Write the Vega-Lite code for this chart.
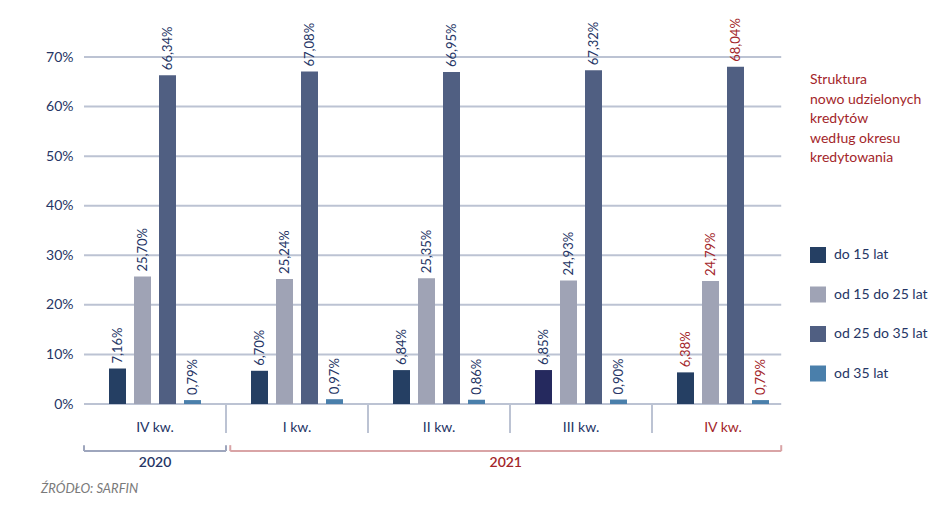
{
  "$schema": "https://vega.github.io/schema/vega-lite/v6.json",
  "width": 697,
  "height": 347,
  "padding": {"left": 40, "top": 18, "right": 5, "bottom": 5},
  "config": {
    "font": "Lato",
    "view": {"stroke": null},
    "locale": {"number": {"decimal": ",", "thousands": " ", "grouping": [3], "currency": ["", " zł"]}}
  },
  "datasets": {
    "shares": [
      {"q": "2020 IV", "series": "do 15 lat", "v": 0.0716},
      {"q": "2020 IV", "series": "od 15 do 25 lat", "v": 0.2570},
      {"q": "2020 IV", "series": "od 25 do 35 lat", "v": 0.6634},
      {"q": "2020 IV", "series": "od 35 lat", "v": 0.0079},
      {"q": "2021 I", "series": "do 15 lat", "v": 0.0670},
      {"q": "2021 I", "series": "od 15 do 25 lat", "v": 0.2524},
      {"q": "2021 I", "series": "od 25 do 35 lat", "v": 0.6708},
      {"q": "2021 I", "series": "od 35 lat", "v": 0.0097},
      {"q": "2021 II", "series": "do 15 lat", "v": 0.0684},
      {"q": "2021 II", "series": "od 15 do 25 lat", "v": 0.2535},
      {"q": "2021 II", "series": "od 25 do 35 lat", "v": 0.6695},
      {"q": "2021 II", "series": "od 35 lat", "v": 0.0086},
      {"q": "2021 III", "series": "do 15 lat", "v": 0.0685},
      {"q": "2021 III", "series": "od 15 do 25 lat", "v": 0.2493},
      {"q": "2021 III", "series": "od 25 do 35 lat", "v": 0.6732},
      {"q": "2021 III", "series": "od 35 lat", "v": 0.0090},
      {"q": "2021 IV", "series": "do 15 lat", "v": 0.0638},
      {"q": "2021 IV", "series": "od 15 do 25 lat", "v": 0.2479},
      {"q": "2021 IV", "series": "od 25 do 35 lat", "v": 0.6804},
      {"q": "2021 IV", "series": "od 35 lat", "v": 0.0079}
    ],
    "grid": [{"y": 0}, {"y": 0.1}, {"y": 0.2}, {"y": 0.3}, {"y": 0.4}, {"y": 0.5}, {"y": 0.6}, {"y": 0.7}],
    "separators": [{"x": 1}, {"x": 2}, {"x": 3}, {"x": 4}],
    "years": [
      {"year": "2020", "x0": 0, "x1": 1.0, "mid": 0.5},
      {"year": "2021", "x0": 1.03, "x1": 4.91, "mid": 2.97}
    ],
    "source": [{"txt": "ŹRÓDŁO: SARFIN", "x": -0.303}]
  },
  "layer": [
    {
      "data": {"name": "grid"},
      "mark": {"type": "rule", "color": "#bcc3d3", "strokeWidth": 2, "clip": false},
      "encoding": {
        "x": {"datum": 0, "type": "quantitative", "scale": {"domain": [0, 5], "range": [0, 710], "nice": false, "zero": false}, "axis": null},
        "x2": {"datum": 4.91},
        "y": {"field": "y", "type": "quantitative"}
      }
    },
    {
      "data": {"name": "shares"},
      "encoding": {
        "x": {
          "field": "q", "type": "nominal", "sort": null, "title": null,
          "scale": {"range": [0, 710], "paddingInner": 0, "paddingOuter": 0},
          "axis": {
            "labelExpr": "split(datum.value, ' ')[1] + ' kw.'",
            "labelAngle": 0, "labelFontSize": 14, "labelPadding": 16,
            "labelColor": {"condition": {"test": "datum.value == '2021 IV'", "value": "#a3262a"}, "value": "#253565"},
            "ticks": false, "domain": false
          }
        },
        "xOffset": {
          "field": "series", "type": "nominal",
          "scale": {"paddingInner": 0.32, "paddingOuter": 1.0}
        },
        "y": {
          "field": "v", "type": "quantitative", "title": null,
          "scale": {"domain": [0, 0.7], "nice": false},
          "axis": {
            "values": [0, 0.1, 0.2, 0.3, 0.4, 0.5, 0.6, 0.7], "format": ".0%",
            "labelFontSize": 14, "labelColor": "#253565", "labelPadding": 11,
            "domain": false, "ticks": false, "grid": false
          }
        }
      },
      "layer": [
        {
          "mark": {"type": "bar", "clip": false},
          "encoding": {
            "color": {
              "condition": {"test": "datum.q == '2021 III' && datum.series == 'do 15 lat'", "value": "#25295e"},
              "field": "series", "type": "nominal",
              "scale": {
                "domain": ["do 15 lat", "od 15 do 25 lat", "od 25 do 35 lat", "od 35 lat"],
                "range": ["#253f63", "#9fa3b5", "#505f82", "#4a7fab"]
              },
              "legend": {
                "orient": "none", "legendX": 726, "legendY": 16,
                "title": ["Struktura", "nowo udzielonych", "kredytów", "według okresu", "kredytowania"],
                "titleFontSize": 14, "titleFontWeight": "normal", "titleColor": "#a3262a",
                "titleLineHeight": 19.5, "titlePadding": 82, "titleLimit": 200,
                "symbolType": "square", "symbolSize": 256, "symbolStrokeWidth": 0, "symbolOpacity": 1,
                "labelFontSize": 14, "labelColor": "#253565", "labelOffset": 8,
                "rowPadding": 23.5
              }
            }
          }
        },
        {
          "mark": {"type": "text", "angle": 270, "align": "left", "baseline": "middle", "dx": 5, "fontSize": 13, "clip": false},
          "encoding": {
            "text": {"field": "v", "type": "quantitative", "format": ".2%"},
            "color": {"condition": {"test": "datum.q == '2021 IV'", "value": "#a3262a"}, "value": "#253565"}
          }
        }
      ]
    },
    {
      "data": {"name": "separators"},
      "mark": {"type": "rule", "color": "#bcc3d3", "strokeWidth": 2, "clip": false},
      "encoding": {
        "x": {"field": "x", "type": "quantitative", "scale": {"domain": [0, 5], "range": [0, 710], "nice": false, "zero": false}, "axis": null},
        "y": {"datum": 0, "type": "quantitative"},
        "y2": {"datum": -0.0585}
      }
    },
    {
      "data": {"name": "years"},
      "layer": [
        {
          "mark": {"type": "rule", "strokeWidth": 2, "clip": false},
          "encoding": {
            "x": {"field": "x0", "type": "quantitative", "scale": {"domain": [0, 5], "range": [0, 710], "nice": false, "zero": false}, "axis": null},
            "x2": {"field": "x1"},
            "y": {"datum": -0.095, "type": "quantitative"},
            "color": {"condition": {"test": "datum.year == '2021'", "value": "#d9a4a6"}, "value": "#9ea6bd"}
          }
        },
        {
          "transform": [{"fold": ["x0", "x1"], "as": ["end", "pos"]}],
          "mark": {"type": "rule", "strokeWidth": 2, "clip": false},
          "encoding": {
            "x": {"field": "pos", "type": "quantitative", "axis": null},
            "y": {"datum": -0.095, "type": "quantitative"},
            "y2": {"datum": -0.083},
            "color": {"condition": {"test": "datum.year == '2021'", "value": "#d9a4a6"}, "value": "#9ea6bd"}
          }
        },
        {
          "mark": {"type": "text", "fontSize": 14, "fontWeight": 600, "baseline": "middle", "clip": false},
          "encoding": {
            "x": {"field": "mid", "type": "quantitative", "axis": null},
            "y": {"datum": -0.12, "type": "quantitative"},
            "text": {"field": "year"},
            "color": {"condition": {"test": "datum.year == '2021'", "value": "#a3262a"}, "value": "#253565"}
          }
        }
      ]
    },
    {
      "data": {"name": "source"},
      "mark": {"type": "text", "align": "left", "baseline": "middle", "fontSize": 13, "fontStyle": "italic", "color": "#7a7a7a", "clip": false},
      "encoding": {
        "x": {"field": "x", "type": "quantitative", "scale": {"domain": [0, 5], "range": [0, 710], "nice": false, "zero": false}, "axis": null},
        "y": {"datum": -0.1715, "type": "quantitative"},
        "text": {"field": "txt"}
      }
    }
  ],
  "resolve": {"scale": {"x": "independent"}}
}
